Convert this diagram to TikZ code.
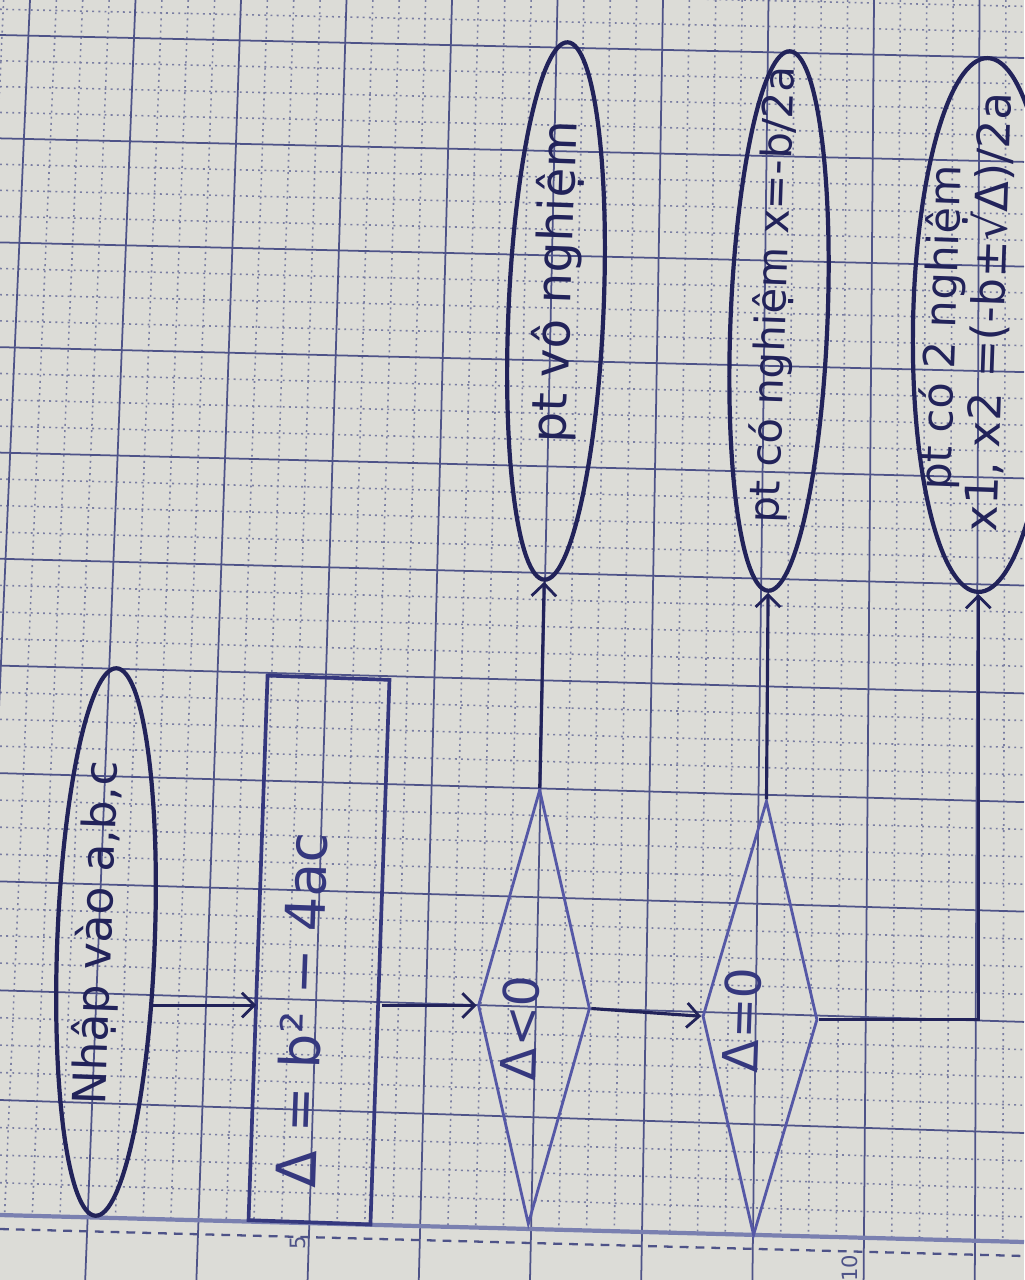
\documentclass[tikz,border=0pt]{standalone}
\usepackage{fontspec}
\setmainfont{DejaVu Sans}
\usetikzlibrary{shapes.geometric,arrows.meta}
\definecolor{paper}{HTML}{DCDCD7}
\definecolor{gridmaj}{HTML}{4E5388}
\definecolor{gridmin}{HTML}{7A7EA2}
\definecolor{border}{HTML}{7A80B0}
\definecolor{ink}{HTML}{22235A}
\definecolor{inkb}{HTML}{35387E}
\definecolor{inkl}{HTML}{5558A6}
\tikzset{
  major/.style={draw=gridmaj, line width=1.0pt},
  minor/.style={draw=gridmin, line width=0.9pt, dash pattern=on 1.1pt off 2.4pt},
  term/.style={draw=ink, line width=2.4pt, ellipse, inner sep=0pt},
  proc/.style={draw=inkb, line width=2.1pt, rectangle, inner sep=0pt},
  dec/.style={draw=inkl, line width=1.6pt, diamond, inner sep=0pt},
  lbl/.style={text=ink, inner sep=0pt, rotate=88},
  paperlbl/.style={text=gridmaj, inner sep=0pt, rotate=90, font=\fontsize{12}{12}\selectfont},
  flow/.style={draw=ink, line width=1.8pt, -{Straight Barb[length=7pt,width=14pt,line width=1.6pt]}},
  link/.style={draw=ink, line width=1.8pt}
}
\begin{document}
\begin{tikzpicture}[x=0.02cm, y=-0.02cm]
\useasboundingbox (0,0) rectangle (1024,1280);
\fill[paper] (0,0) rectangle (1024,1280);
\begin{scope}
\clip (0,0) rectangle (1024,1280);
% minor vertical lines (end at the bottom border)
\foreach \k in {-1,...,9}{
  \foreach \m in {1,2,3}{
    \pgfmathsetmacro\t{\k+\m/4}
    \pgfmathsetmacro\xa{30+105.5*\t}
    \pgfmathsetmacro\xb{-26+111.2*\t}
    \pgfmathsetmacro\yb{1215+27*(\xa/1024)}
    \pgfmathsetmacro\xe{\xa+(\xb-\xa)*(\yb/1280)}
    \draw[minor] (\xa,0) -- (\xe,\yb);
  }
}
% minor horizontal lines
\foreach \j in {-1,...,10}{
  \foreach \m in {1,2,3}{
    \pgfmathsetmacro\t{\j+\m/4}
    \pgfmathsetmacro\yl{35+103*\t+0.35*\t*\t}
    \pgfmathsetmacro\yr{58+103.5*\t+0.4*\t*\t}
    \draw[minor] (0,\yl) -- (1024,\yr);
  }
}
% major vertical lines
\foreach \k in {0,...,9}{
  \pgfmathsetmacro\xa{30+105.5*\k}
  \pgfmathsetmacro\xb{-26+111.2*\k}
  \draw[major] (\xa,0) -- (\xb,1280);
}
% major horizontal lines
\foreach \j in {0,...,10}{
  \pgfmathsetmacro\yl{35+103*\j+0.35*\j*\j}
  \pgfmathsetmacro\yr{58+103.5*\j+0.4*\j*\j}
  \draw[major] (0,\yl) -- (1024,\yr);
}
% bottom border and dashed margin line
\draw[draw=border, line width=2.4pt] (0,1215) -- (1024,1242);
\draw[draw=gridmaj, line width=1.3pt, dash pattern=on 5pt off 4pt] (0,1229) -- (1024,1256);
\end{scope}
\node[paperlbl] (n5) at (298,1243) {5};
\node[paperlbl] (n10) at (850,1268) {10};

% flowchart shapes
\node[term, minimum width=1.95cm, minimum height=10.96cm, rotate=-2.2] (e1) at (106,942) {};
\node[lbl] (t1) at (98,933) {\resizebox{196pt}{!}{Nhập vào a,b,c}};

\node[proc, minimum width=2.44cm, minimum height=10.9cm, rotate=-2] (rect) at (319,950) {};
\node[lbl, text=inkb] (t2) at (301,1010) {\resizebox{202pt}{!}{Δ = b² − 4ac}};

\node[dec, minimum width=2.24cm, minimum height=8.7cm, rotate=-1.5] (d1) at (534,1007) {};
\node[lbl, text=inkb] (t3) at (520,1028) {\resizebox{60pt}{!}{Δ<0}};

\node[dec, minimum width=2.3cm, minimum height=8.7cm, rotate=-1.7] (d2) at (760,1018) {};
\node[lbl, text=inkb] (t4) at (742,1020) {\resizebox{60pt}{!}{Δ=0}};

\node[term, minimum width=1.9cm, minimum height=10.76cm, rotate=-2.5] (e2) at (556,311) {};
\node[lbl] (t5) at (557,282) {\resizebox{183pt}{!}{pt vô nghiệm}};

\node[term, minimum width=1.94cm, minimum height=10.8cm, rotate=-2.3] (e3) at (779,321) {};
\node[lbl] (t6) at (774,295) {\resizebox{260pt}{!}{pt có nghiệm x=-b/2a}};

\node[term, minimum width=2.8cm, minimum height=10.68cm, rotate=-1] (e4) at (983,325) {};
\node[lbl] (t7) at (943,328) {\resizebox{185pt}{!}{pt có 2 nghiệm}};
\node[lbl] (t8) at (989,312) {\resizebox{250pt}{!}{x1, x2 =(-b±√Δ)/2a}};

% connectors
\draw[flow] (e1.-51) -- (e1.-51 -| rect.west);
\draw[flow] (rect.east |- d1.west) -- (d1.west);
\draw[flow] (d1.north) -- (e2.south);
\draw[flow] (d1.east) -- (d2.west);
\draw[flow] (d2.north) -- (e3.south);
\draw[flow] (d2.east) -| (e4.south);
\end{tikzpicture}
\end{document}
